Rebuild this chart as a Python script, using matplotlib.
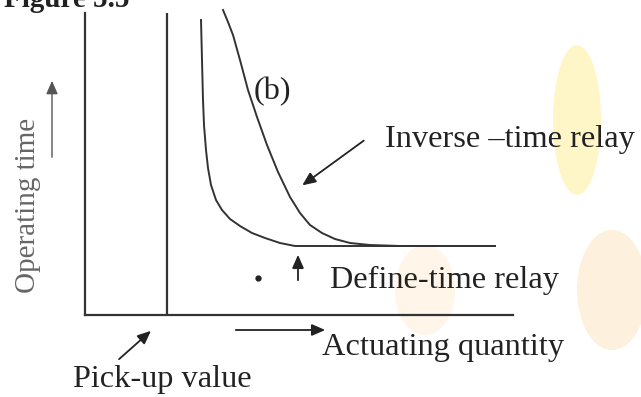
import matplotlib.pyplot as plt
from matplotlib.patches import Ellipse

# schematic relay characteristics (x: actuating quantity, t: operating time, arbitrary units)
pickup_x = 82
definite_x = [116, 117, 118, 119, 121, 123, 126, 131, 137, 145, 155, 167, 180, 195, 210, 410]
definite_t = [295, 255, 215, 190, 165, 147, 130, 115, 105, 96, 89, 82, 77, 72, 69, 69]
inverse_x = [138, 143, 148, 155, 163, 172, 182, 193, 205, 215, 225, 237, 250, 265, 285, 315, 410]
inverse_t = [305, 293, 280, 255, 225, 198, 170, 143, 118, 102, 90, 82, 76, 72, 70, 69, 69]

W, H = 641, 397
LINE = "#333333"
SERIF = ["Liberation Serif", "DejaVu Serif"]

fig = plt.figure(figsize=(W / 100, H / 100), dpi=100)

# faint background watermark blobs
bg = fig.add_axes([0, 0, 1, 1])
bg.set_xlim(0, W)
bg.set_ylim(H, 0)
bg.axis("off")
for (cx, cy, w, h, c) in [(577, 120, 48, 150, "#fff6c8"), (612, 290, 70, 120, "#fdf0dc"),
                          (425, 290, 60, 90, "#fff5e8")]:
    bg.add_patch(Ellipse((cx, cy), w, h, color=c, lw=0, zorder=0))

# main plot area
ax = fig.add_axes([85 / W, (H - 315) / H, (513 - 85) / W, (315 - 13) / H])
ax.patch.set_alpha(0)
ax.set_xlim(0, 428)
ax.set_ylim(0, 302)
for s in ["top", "right"]:
    ax.spines[s].set_visible(False)
for s in ["left", "bottom"]:
    ax.spines[s].set_color(LINE)
    ax.spines[s].set_linewidth(1.6)
ax.set_xticks([])
ax.set_yticks([])
ax.axvline(pickup_x, color=LINE, lw=1.6)
ax.plot(definite_x, definite_t, color=LINE, lw=1.4, clip_on=False)
ax.plot(inverse_x, inverse_t, color=LINE, lw=1.4, clip_on=False)

# annotations in pixel coordinates
ov = fig.add_axes([0, 0, 1, 1])
ov.set_xlim(0, W)
ov.set_ylim(H, 0)
ov.axis("off")
ov.patch.set_alpha(0)

arrow = dict(arrowstyle="-|>,head_length=0.8,head_width=0.35", color="#222222", lw=1.3)
ov.annotate("", xy=(52, 78), xytext=(52, 160), arrowprops=dict(arrow, color="#555555", lw=1.0))
ov.annotate("", xy=(300, 187), xytext=(366, 139), arrowprops=arrow)
ov.annotate("", xy=(298, 252), xytext=(298, 283), arrowprops=arrow)
ov.annotate("", xy=(328, 330), xytext=(233, 330), arrowprops=arrow)
ov.annotate("", xy=(153, 329), xytext=(117, 361), arrowprops=arrow)
ov.plot([258], [278], "o", color="#222222", ms=3.5)

fs = 23.3
ov.text(28, 205, "Operating time", rotation=90, ha="center", va="center",
        fontsize=21, color="#666666", family=SERIF)
ov.text(272, 92, "(b)", ha="center", va="center", fontsize=fs, color="#222222", family=SERIF)
ov.text(385, 139, "Inverse \u2013time relay", ha="left", va="center", fontsize=fs,
        color="#222222", family=SERIF)
ov.text(330, 280, "Define-time relay", ha="left", va="center", fontsize=fs,
        color="#222222", family=SERIF)
ov.text(322, 348, "Actuating quantity", ha="left", va="center", fontsize=fs,
        color="#222222", family=SERIF)
ov.text(73, 380, "Pick-up value", ha="left", va="center", fontsize=fs,
        color="#222222", family=SERIF)
ov.text(4, 7, "Figure 5.5", ha="left", va="baseline", fontsize=21,
        fontweight="bold", color="#222222", family=SERIF)

fig.savefig("out.png", dpi=100)
